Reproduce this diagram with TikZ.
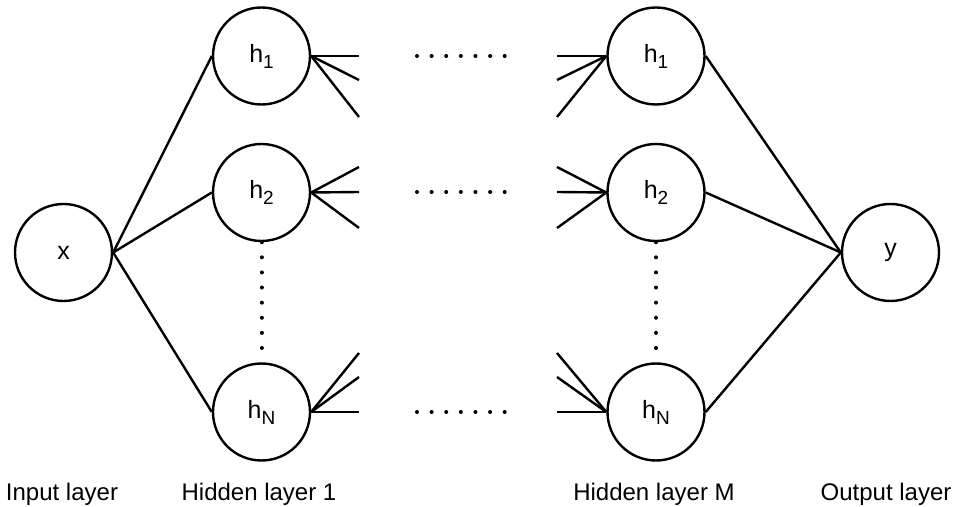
\documentclass[tikz,border=0pt]{standalone}
\usepackage{fontspec}
\setmainfont{Liberation Sans}
\newcommand{\hsub}[1]{h\raisebox{-6pt}{\fontsize{19}{19}\selectfont #1}}
\begin{document}
\begin{tikzpicture}[x=1pt,y=1pt,
  neuron/.style={circle,draw,line width=2.4pt,minimum size=97pt,inner sep=0pt,font=\fontsize{25}{28}\selectfont},
  conn/.style={line width=2.4pt},
  dotrow/.style={line width=4pt,line cap=round,dash pattern=on 0.01pt off 14.6pt},
  dotcol/.style={line width=4pt,line cap=round,dash pattern=on 0.01pt off 15.1pt},
  lbl/.style={font=\fontsize{24}{28}\selectfont,anchor=base,inner sep=0pt}]
\useasboundingbox (0,0) rectangle (958,506);

% nodes
\node[neuron] (x) at (63.5,253.5) {x};
\node[neuron] (a1) at (261.5,450) {\hsub{1}};
\node[neuron] (a2) at (261.5,313.5) {\hsub{2}};
\node[neuron] (aN) at (261.5,94) {\hsub{N}};
\node[neuron] (b1) at (656,450) {\hsub{1}};
\node[neuron] (b2) at (656,313.5) {\hsub{2}};
\node[neuron] (bN) at (656,94) {\hsub{N}};
\node[neuron] (y) at (890.5,253.5) {y};

% free ends of fans
\coordinate (a1p) at (359,450); \coordinate (a1q) at (359,426); \coordinate (a1r) at (359,389);
\coordinate (a2p) at (359,339); \coordinate (a2q) at (359,314); \coordinate (a2r) at (359,278);
\coordinate (aNp) at (359,153); \coordinate (aNq) at (359,129); \coordinate (aNr) at (359,94);
\coordinate (b1p) at (557,450); \coordinate (b1q) at (557,426); \coordinate (b1r) at (557,389);
\coordinate (b2p) at (557,339); \coordinate (b2q) at (557,314); \coordinate (b2r) at (557,278);
\coordinate (bNp) at (557,153); \coordinate (bNq) at (557,129); \coordinate (bNr) at (557,94);

% dotted row ends
\coordinate (d1s) at (417,450); \coordinate (d1e) at (505,450);
\coordinate (d2s) at (417,314); \coordinate (d2e) at (505,314);
\coordinate (dNs) at (417,94);  \coordinate (dNe) at (505,94);

% input to layer 1
\draw[conn] (x.east) -- (a1.west);
\draw[conn] (x.east) -- (a2.west);
\draw[conn] (x.east) -- (aN.west);

% layer M to output
\draw[conn] (b1.east) -- (y.west);
\draw[conn] (b2.east) -- (y.west);
\draw[conn] (bN.east) -- (y.west);

% fans
\foreach \n in {a1,a2,aN}{
  \draw[conn] (\n.east) -- (\n p);
  \draw[conn] (\n.east) -- (\n q);
  \draw[conn] (\n.east) -- (\n r);
}
\foreach \n in {b1,b2,bN}{
  \draw[conn] (\n.west) -- (\n p);
  \draw[conn] (\n.west) -- (\n q);
  \draw[conn] (\n.west) -- (\n r);
}

% dotted lines
\draw[dotrow] (d1s) -- (d1e);
\draw[dotrow] (d2s) -- (d2e);
\draw[dotrow] (dNs) -- (dNe);
\draw[dotcol] (a2.south) -- (aN.north);
\draw[dotcol] (b2.south) -- (bN.north);

% layer labels
\node[lbl] (l0) at (62,6) {Input layer};
\node[lbl] (l1) at (259,6) {Hidden layer 1};
\node[lbl] (l2) at (654,6) {Hidden layer M};
\node[lbl] (l3) at (886,6) {Output layer};
\end{tikzpicture}
\end{document}
